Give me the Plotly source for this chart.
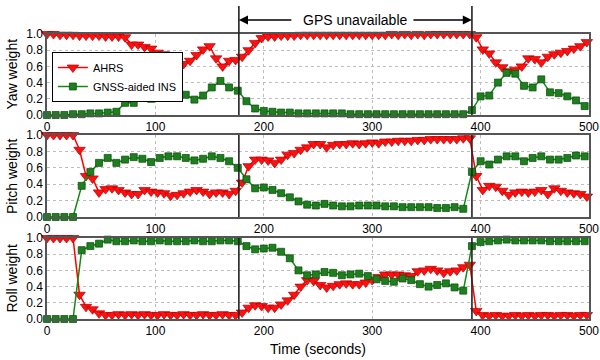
import plotly.graph_objects as go

# ---------------- data ----------------
# sample times of the plotted markers (seconds)
t_ahrs = list(range(0, 500, 6))   # 84 samples
t_ins = list(range(0, 500, 8))    # 63 samples

yaw_ahrs = [
    1.00, 1.00, 0.99, 0.99, 0.99, 0.98, 0.98, 0.98, 0.98, 0.97,   # 0-54
    0.97, 0.97, 0.96, 0.87, 0.87, 0.84, 0.82, 0.77, 0.75, 0.56,   # 60-114
    0.57, 0.63, 0.67, 0.74, 0.81, 0.85, 0.70, 0.60, 0.67, 0.68,   # 120-174
    0.72, 0.80, 0.89, 0.95, 0.97, 0.97, 0.98, 0.98, 0.98, 0.99,   # 180-234
    0.99, 0.99, 0.99, 0.99, 0.99, 0.99, 0.99, 0.99, 0.99, 0.99,   # 240-294
    0.99, 0.99, 0.99, 1.00, 0.99, 1.00, 0.99, 1.00, 0.99, 1.00,   # 300-354
    1.00, 1.00, 1.00, 1.00, 1.00, 1.00, 0.96, 0.81, 0.76, 0.65,   # 360-414
    0.59, 0.54, 0.56, 0.60, 0.70, 0.69, 0.65, 0.72, 0.75, 0.77,   # 420-474
    0.79, 0.82, 0.85, 0.90,                                       # 480-498
]
yaw_ins = [
    0.00, 0.00, 0.00, 0.01, 0.01, 0.02, 0.02, 0.03, 0.04, 0.15,   # 0-72
    0.15, 0.23, 0.20, 0.47, 0.42, 0.34, 0.25, 0.19, 0.24, 0.34,   # 80-152
    0.42, 0.34, 0.30, 0.17, 0.08, 0.05, 0.04, 0.03, 0.03, 0.02,   # 160-232
    0.02, 0.02, 0.02, 0.02, 0.02, 0.01, 0.01, 0.01, 0.01, 0.01,   # 240-312
    0.01, 0.01, 0.01, 0.01, 0.01, 0.01, 0.01, 0.01, 0.01, 0.06,   # 320-392
    0.23, 0.24, 0.40, 0.52, 0.51, 0.36, 0.34, 0.44, 0.28, 0.27,   # 400-472
    0.23, 0.18, 0.11,                                             # 480-496
]

pitch_ahrs = [
    1.00, 1.00, 1.00, 1.00, 1.00, 0.82, 0.50, 0.47, 0.30, 0.34,   # 0-54
    0.35, 0.33, 0.30, 0.28, 0.28, 0.33, 0.31, 0.30, 0.29, 0.26,   # 60-114
    0.27, 0.29, 0.31, 0.33, 0.31, 0.28, 0.30, 0.30, 0.28, 0.32,   # 120-174
    0.42, 0.62, 0.70, 0.70, 0.69, 0.66, 0.70, 0.76, 0.78, 0.82,   # 180-234
    0.85, 0.89, 0.89, 0.85, 0.88, 0.89, 0.89, 0.90, 0.89, 0.90,   # 240-294
    0.91, 0.90, 0.92, 0.92, 0.93, 0.93, 0.93, 0.94, 0.94, 0.95,   # 300-354
    0.95, 0.95, 0.95, 0.95, 0.96, 0.96, 0.50, 0.33, 0.38, 0.37,   # 360-414
    0.32, 0.27, 0.30, 0.31, 0.30, 0.31, 0.33, 0.28, 0.35, 0.32,   # 420-474
    0.30, 0.29, 0.28, 0.25,                                       # 480-498
]
pitch_ins = [
    0.00, 0.00, 0.00, 0.00, 0.38, 0.55, 0.66, 0.72, 0.66, 0.70,   # 0-72
    0.73, 0.71, 0.67, 0.72, 0.74, 0.74, 0.72, 0.69, 0.71, 0.74,   # 80-152
    0.72, 0.68, 0.60, 0.46, 0.35, 0.36, 0.33, 0.29, 0.24, 0.19,   # 160-232
    0.15, 0.14, 0.16, 0.14, 0.13, 0.13, 0.14, 0.14, 0.14, 0.13,   # 240-312
    0.13, 0.12, 0.12, 0.12, 0.12, 0.11, 0.11, 0.12, 0.10, 0.55,   # 320-392
    0.68, 0.64, 0.70, 0.74, 0.74, 0.68, 0.72, 0.74, 0.70, 0.70,   # 400-472
    0.72, 0.75, 0.74,                                             # 480-496
]

roll_ahrs = [
    1.00, 1.00, 1.00, 1.00, 1.00, 0.30, 0.15, 0.12, 0.07, 0.05,   # 0-54
    0.05, 0.06, 0.05, 0.06, 0.05, 0.06, 0.05, 0.05, 0.06, 0.05,   # 60-114
    0.05, 0.06, 0.05, 0.05, 0.06, 0.05, 0.05, 0.06, 0.05, 0.05,   # 120-174
    0.08, 0.14, 0.17, 0.16, 0.14, 0.14, 0.18, 0.23, 0.30, 0.40,   # 180-234
    0.48, 0.47, 0.42, 0.39, 0.41, 0.43, 0.44, 0.43, 0.43, 0.45,   # 240-294
    0.48, 0.52, 0.55, 0.55, 0.55, 0.54, 0.53, 0.59, 0.60, 0.62,   # 300-354
    0.60, 0.57, 0.59, 0.60, 0.64, 0.67, 0.10, 0.05, 0.04, 0.05,   # 360-414
    0.04, 0.04, 0.05, 0.04, 0.05, 0.04, 0.05, 0.05, 0.04, 0.05,   # 420-474
    0.05, 0.04, 0.05, 0.05,                                       # 480-498
]
roll_ins = [
    0.00, 0.00, 0.00, 0.00, 0.85, 0.90, 0.93, 0.98, 0.96, 0.96,   # 0-72
    0.97, 0.96, 0.96, 0.97, 0.96, 0.96, 0.96, 0.97, 0.96, 0.96,   # 80-152
    0.97, 0.97, 0.96, 0.90, 0.86, 0.87, 0.88, 0.83, 0.75, 0.60,   # 160-232
    0.54, 0.55, 0.58, 0.57, 0.54, 0.55, 0.56, 0.53, 0.49, 0.47,   # 240-312
    0.46, 0.50, 0.48, 0.43, 0.40, 0.42, 0.44, 0.39, 0.35, 0.90,   # 320-392
    0.95, 0.96, 0.97, 0.98, 0.97, 0.97, 0.97, 0.97, 0.96, 0.96,   # 400-472
    0.96, 0.96, 0.96,                                             # 480-496
]

gps_outage = [177, 392]          # start / end of GPS outage (s)
panel_titles = ["Yaw weight", "Pitch weight", "Roll weight"]
series_names = ["AHRS", "GNSS-aided INS"]
x_ticks = [0, 100, 200, 300, 400, 500]
y_ticks = [0.0, 0.2, 0.4, 0.6, 0.8, 1.0]
y_ticktext = ["0.0", "0.2", "0.4", "0.6", "0.8", "1.0"]

# ---------------- figure ----------------
W, H = 600, 360
ML, MR = 47, 11
panel_px = [(34, 115), (135, 217), (238, 319)]   # top, bottom pixel rows
domains = [[1 - b / H, 1 - t / H] for t, b in panel_px]

FONT = "Liberation Sans, Arial, Helvetica, sans-serif"
RED = "#ff0000"
GREEN = "#138a13"

fig = go.Figure()
data = [(yaw_ahrs, yaw_ins), (pitch_ahrs, pitch_ins), (roll_ahrs, roll_ins)]

for i, (ahrs, ins) in enumerate(data):
    sfx = "" if i == 0 else str(i + 1)
    fig.add_trace(go.Scatter(
        x=t_ahrs, y=ahrs, name=series_names[0], mode="lines+markers",
        line=dict(color=RED, width=1.5),
        marker=dict(symbol="triangle-down", size=10, color="#ff1010",
                    line=dict(color="#b00000", width=0.7)),
        cliponaxis=False, showlegend=(i == 0), legendgroup="a",
        xaxis="x" + sfx, yaxis="y" + sfx))
    fig.add_trace(go.Scatter(
        x=t_ins, y=ins, name=series_names[1], mode="lines+markers",
        line=dict(color=GREEN, width=1.5),
        marker=dict(symbol="square", size=7, color="#1d7f1d",
                    line=dict(color="#0a4a0a", width=0.7)),
        cliponaxis=False, showlegend=(i == 0), legendgroup="b",
        xaxis="x" + sfx, yaxis="y" + sfx))

axis_common = dict(showgrid=True, gridcolor="#bdbdbd", griddash="dot", gridwidth=1,
                   showline=True, mirror=True, linecolor="#555555", linewidth=1.5,
                   zeroline=False, ticks="", tickfont=dict(size=12, color="black"),
                   automargin=False)

layout = dict(
    width=W, height=H, template="none",
    margin=dict(l=ML, r=MR, t=0, b=0),
    paper_bgcolor="white", plot_bgcolor="white",
    font=dict(family=FONT, color="black"),
    legend=dict(x=0.009, y=1 - 52 / H, xanchor="left", yanchor="top",
                bgcolor="white", bordercolor="black", borderwidth=1,
                font=dict(size=11), tracegroupgap=0, itemwidth=30),
)
for i in range(3):
    sfx = "" if i == 0 else str(i + 1)
    layout["xaxis" + sfx] = dict(axis_common, domain=[0, 1], range=[0, 500],
                                 tickvals=x_ticks, anchor="y" + sfx)
    layout["yaxis" + sfx] = dict(axis_common, domain=domains[i], range=[0, 1],
                                 tickvals=y_ticks, ticktext=y_ticktext,
                                 anchor="x" + sfx)
fig.update_layout(**layout)

# vertical lines marking the GPS outage
shapes = []
for i in range(3):
    sfx = "" if i == 0 else str(i + 1)
    y0 = domains[i][0]
    y1 = (1 - 6 / H) if i == 0 else domains[i][1]
    for xv in gps_outage:
        shapes.append(dict(type="line", xref="x" + sfx, yref="paper",
                           x0=xv, x1=xv, y0=y0, y1=y1,
                           line=dict(color="#222222", width=1.6)))
fig.update_layout(shapes=shapes)

arrow_y = 1 - 20 / H
mid = (gps_outage[0] + gps_outage[1]) / 2
annotations = [
    dict(text="GPS unavailable", x=mid, y=arrow_y, xref="x", yref="paper",
         showarrow=False, font=dict(size=14), xanchor="center", yanchor="middle"),
    dict(text="", x=gps_outage[0], y=arrow_y, xref="x", yref="paper",
         showarrow=True, ax=54, ay=0, axref="pixel", ayref="pixel",
         arrowhead=2, arrowsize=1.3, arrowwidth=1.4, arrowcolor="black", standoff=0),
    dict(text="", x=gps_outage[1], y=arrow_y, xref="x", yref="paper",
         showarrow=True, ax=-60, ay=0, axref="pixel", ayref="pixel",
         arrowhead=2, arrowsize=1.3, arrowwidth=1.4, arrowcolor="black", standoff=0),
    dict(text="Time (seconds)", x=0.5, y=1 - 349 / H, xref="paper", yref="paper",
         showarrow=False, font=dict(size=14), xanchor="center", yanchor="middle"),
]
for i, title in enumerate(panel_titles):
    yc = (domains[i][0] + domains[i][1]) / 2
    annotations.append(dict(text=title, x=(12 - ML) / (W - ML - MR), y=yc,
                            xref="paper", yref="paper", showarrow=False,
                            textangle=-90, font=dict(size=14),
                            xanchor="center", yanchor="middle"))
fig.update_layout(annotations=annotations)

fig.write_html("out.html",
               config={"displayModeBar": False},
               post_script="document.body.style.margin='0';"
                           "document.body.style.overflow='hidden';")
